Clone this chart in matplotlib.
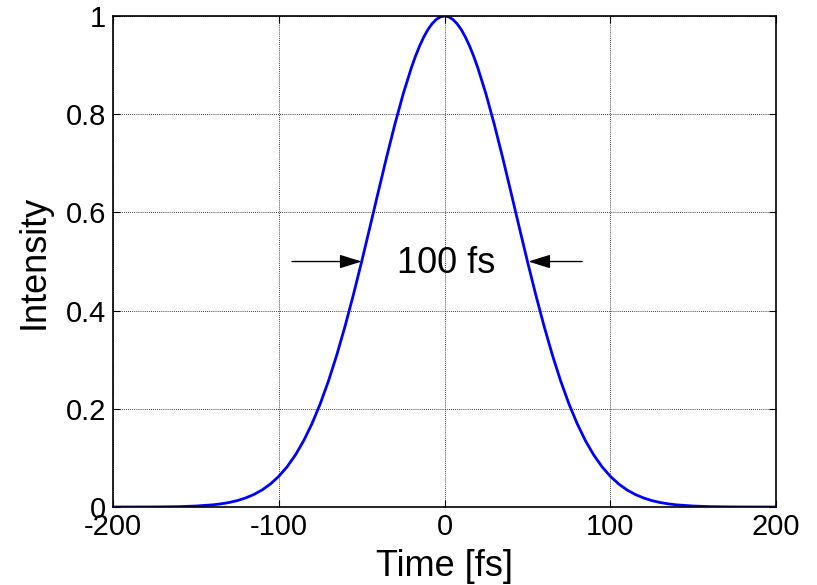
import matplotlib
matplotlib.use("Agg")
import matplotlib.pyplot as plt

# pulse intensity profile (fs, normalised)
time_fs = [-200, -190, -180, -170, -160, -150, -140, -135, -130, -125, -120, -115,
           -110, -105, -100, -95, -90, -85, -80, -75, -70, -65, -60, -55, -50,
           -45, -40, -35, -30, -25, -20, -17.5, -15, -12.5, -10, -7.5, -5, -2.5, 0,
           2.5, 5, 7.5, 10, 12.5, 15, 17.5, 20, 25, 30, 35, 40, 45, 50, 55, 60,
           65, 70, 75, 80, 85, 90, 95, 100, 105, 110, 115, 120, 125, 130, 135,
           140, 150, 160, 170, 180, 190, 200]
intensity = [0.0, 0.00004, 0.00013, 0.00033, 0.00083, 0.0020, 0.0044, 0.0064,
             0.0092, 0.0131, 0.0185, 0.0256, 0.0349, 0.0470, 0.0625, 0.0819,
             0.1058, 0.1349, 0.1696, 0.2102, 0.2570, 0.3099, 0.3686, 0.4323,
             0.5, 0.5704, 0.6417, 0.7121, 0.7792, 0.8409, 0.8950, 0.9186,
             0.9395, 0.9576, 0.9727, 0.9845, 0.9931, 0.9983, 1.0,
             0.9983, 0.9931, 0.9845, 0.9727, 0.9576, 0.9395, 0.9186, 0.8950,
             0.8409, 0.7792, 0.7121, 0.6417, 0.5704, 0.5, 0.4323, 0.3686,
             0.3099, 0.2570, 0.2102, 0.1696, 0.1349, 0.1058, 0.0819, 0.0625,
             0.0470, 0.0349, 0.0256, 0.0185, 0.0131, 0.0092, 0.0064, 0.0044,
             0.0020, 0.00083, 0.00033, 0.00013, 0.00004, 0.0]

x_ticks = [-200, -100, 0, 100, 200]
x_tick_labels = ["-200", "-100", "0", "100", "200"]
y_ticks = [0, 0.2, 0.4, 0.6, 0.8, 1]
y_tick_labels = ["0", "0.2", "0.4", "0.6", "0.8", "1"]

plt.rcParams["font.family"] = ["Liberation Sans", "DejaVu Sans"]

fig = plt.figure(figsize=(8.17, 5.85), dpi=100)
ax = fig.add_axes([0.1383, 0.1333, 0.8117, 0.8393])

ax.plot(time_fs, intensity, color="#0000ff", linewidth=2)

ax.set_xlim(-200, 200)
ax.set_ylim(0, 1)
ax.set_xticks(x_ticks)
ax.set_xticklabels(x_tick_labels)
ax.set_yticks(y_ticks)
ax.set_yticklabels(y_tick_labels)
ax.tick_params(direction="in", labelsize=21, length=5, width=0.8,
               top=True, right=True)
ax.tick_params(axis="y", pad=5)
ax.tick_params(axis="x", pad=4)
ax.grid(True, color="black", linestyle=(0, (1, 1.5)), linewidth=0.6)
for sp in ax.spines.values():
    sp.set_linewidth(1.2)

ax.set_xlabel("Time [fs]", fontsize=26, labelpad=6)
ax.set_ylabel("Intensity", fontsize=26, labelpad=10)

# FWHM markers
head = "-|>,head_length=0.9,head_width=0.28"
ax.annotate("", xy=(-50, 0.5), xytext=(-92, 0.5),
            arrowprops=dict(arrowstyle=head, color="black", lw=1,
                            mutation_scale=15, shrinkA=0, shrinkB=0))
ax.annotate("", xy=(50.5, 0.5), xytext=(83, 0.5),
            arrowprops=dict(arrowstyle=head, color="black", lw=1,
                            mutation_scale=15, shrinkA=0, shrinkB=0))
ax.text(1, 0.495, "100 fs", fontsize=26, ha="center", va="center")

fig.savefig("out.png", dpi=100)
